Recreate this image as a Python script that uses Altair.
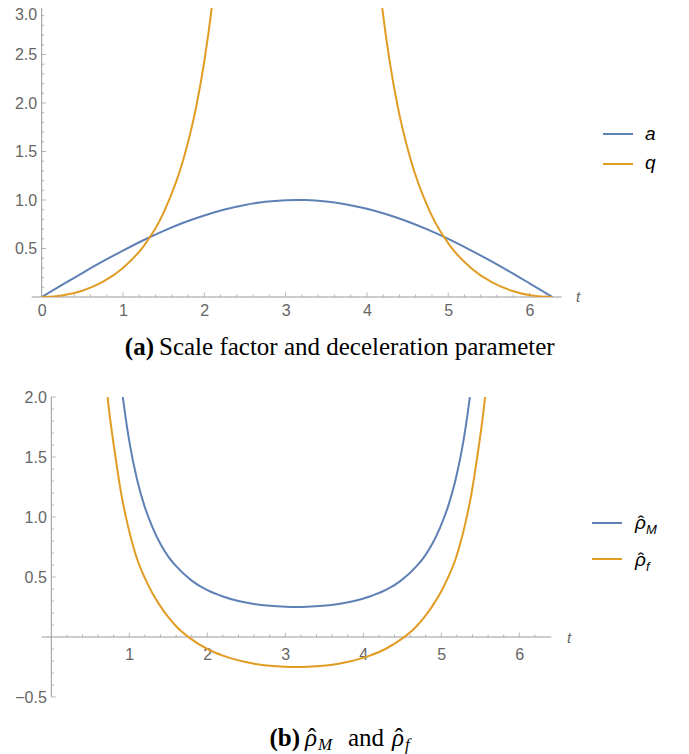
import altair as alt
import pandas as pd

BLUE = "#5E81B5"
ORANGE = "#E19C24"
AXC = "#9a9a9a"
LABC = "#666666"
SANS = "Liberation Sans"
SERIF = "Liberation Serif"

# ---------------- panel (a): scale factor a(t) and deceleration parameter q(t)
t_a = [0.0, 0.25, 0.5, 0.75, 1.0, 1.25, 1.5, 1.75, 2.0, 2.25, 2.5, 2.75, 3.0, 3.14,
       3.25, 3.5, 3.75, 4.0, 4.25, 4.5, 4.75, 5.0, 5.25, 5.5, 5.75, 6.0, 6.283]
a_vals = [0.0, 0.125, 0.247, 0.366, 0.479, 0.585, 0.682, 0.768, 0.841, 0.902, 0.949, 0.981,
          0.997, 1.0, 0.999, 0.984, 0.954, 0.909, 0.850, 0.778, 0.694, 0.599, 0.494, 0.382,
          0.264, 0.141, 0.0]

t_q_left = [0.0, 0.25, 0.5, 0.75, 1.0, 1.25, 1.5, 1.75, 1.9, 2.0, 2.1, 2.2]
q_left = [0.0, 0.016, 0.065, 0.155, 0.30, 0.52, 0.87, 1.44, 1.96, 2.43, 3.04, 3.86]
t_q_right = [4.08, 4.18, 4.28, 4.38, 4.53, 4.78, 5.03, 5.28, 5.53, 5.78, 6.03, 6.283]
q_right = [3.86, 3.04, 2.43, 1.96, 1.44, 0.87, 0.52, 0.30, 0.155, 0.065, 0.016, 0.0]

# ---------------- panel (b): densities rho_M and rho_f
t_rM = [0.85, 0.9, 0.95, 1.0, 1.1, 1.2, 1.3, 1.4, 1.5, 1.6, 1.8, 2.0, 2.2, 2.4, 2.6, 2.8,
        3.0, 3.14, 3.283, 3.483, 3.683, 3.883, 4.083, 4.283, 4.483, 4.683, 4.783, 4.883,
        4.983, 5.083, 5.183, 5.283, 5.333, 5.383, 5.433]
rM = [2.39, 2.09, 1.84, 1.63, 1.31, 1.08, 0.91, 0.775, 0.67, 0.59, 0.47, 0.39, 0.338, 0.30,
      0.275, 0.26, 0.252, 0.25, 0.252, 0.26, 0.275, 0.30, 0.338, 0.39, 0.47, 0.59, 0.67,
      0.775, 0.91, 1.08, 1.31, 1.63, 1.84, 2.09, 2.39]
t_rf = [0.65, 0.7, 0.75, 0.8, 0.85, 0.9, 0.95, 1.0, 1.1, 1.2, 1.3, 1.4, 1.5, 1.6, 1.8, 2.0,
        2.2, 2.4, 2.6, 2.8, 3.0, 3.14, 3.283, 3.483, 3.683, 3.883, 4.083, 4.283, 4.483,
        4.683, 4.783, 4.883, 4.983, 5.083, 5.183, 5.283, 5.333, 5.383, 5.433, 5.483, 5.533,
        5.583, 5.633]
rf = [2.45, 2.13, 1.84, 1.60, 1.38, 1.18, 1.02, 0.88, 0.65, 0.49, 0.36, 0.255, 0.165, 0.09,
      -0.02, -0.10, -0.155, -0.195, -0.222, -0.24, -0.248, -0.25, -0.248, -0.24, -0.222,
      -0.195, -0.155, -0.10, -0.02, 0.09, 0.165, 0.255, 0.36, 0.49, 0.65, 0.88, 1.02, 1.18,
      1.38, 1.60, 1.84, 2.13, 2.45]

# ---------------- tick labels / tick marks
xlab_a = [0, 1, 2, 3, 4, 5, 6]
ylab_a = [0.5, 1.0, 1.5, 2.0, 2.5, 3.0]
xlab_b = [1, 2, 3, 4, 5, 6]
ylab_b = [-0.5, 0.5, 1.0, 1.5, 2.0]
xmajor_a = [1, 2, 3, 4, 5, 6]
xminor_a = [round(i * 0.2, 1) for i in range(1, 32) if i % 5 != 0]
ymajor_a = [0.5, 1.0, 1.5, 2.0, 2.5, 3.0]
yminor_a = [round(i * 0.1, 1) for i in range(1, 30) if i % 5 != 0]
xmajor_b = [1, 2, 3, 4, 5, 6]
xminor_b = [round(i * 0.2, 1) for i in range(1, 32) if i % 5 != 0]
ymajor_b = [-0.5, 0.5, 1.0, 1.5, 2.0]
yminor_b = [round(i * 0.1, 1) for i in range(-4, 20) if i % 5 != 0]

W = 673
HA = 291
HB = 300
OFF_A = 33.7   # pixel distance of t=0 from plot left (panel a)
OFF_B = 43.3   # same for panel b
PX_A = 81.3
PX_B = 78.0

xA = alt.Scale(domain=[-OFF_A / PX_A, (W - OFF_A) / PX_A], nice=False, zero=False)
yA = alt.Scale(domain=[0, 3], nice=False, zero=False)
xB = alt.Scale(domain=[-OFF_B / PX_B, (W - OFF_B) / PX_B], nice=False, zero=False)
yB = alt.Scale(domain=[-0.5, 2.0], nice=False, zero=False)


def lab_axis(values, fmt, flush=False, **kw):
    return alt.Axis(values=values, format=fmt, domain=False, ticks=False, grid=False,
                    labelFont=SANS, labelFontSize=16, labelColor=LABC, labelOverlap=False,
                    labelFlush=flush, title=None, **kw)


axXA = lab_axis(xlab_a, "d", labelPadding=5)
axYA = lab_axis(ylab_a, ".1f", flush=True, labelFlushOffset=0, labelPadding=5, offset=-OFF_A)
axXB = lab_axis(xlab_b, "d", labelPadding=9, offset=-60)
axYB = lab_axis(ylab_b, ".1f", labelPadding=5, offset=-OFF_B)


def tick_layers(xs, ys, axx, axy, xmaj, xmin, ymaj, ymin):
    layers = []
    for vals, size in ((xmaj, 4.5), (xmin, 2.6)):
        d = pd.DataFrame({"t": vals, "v": 0.0})
        layers.append(alt.Chart(d).mark_tick(orient="vertical", size=size, thickness=1,
                                             yOffset=-size / 2, color=AXC).encode(
            x=alt.X("t:Q", scale=xs, axis=axx), y=alt.Y("v:Q", scale=ys, axis=axy)))
    for vals, size in ((ymaj, 4.5), (ymin, 2.6)):
        d = pd.DataFrame({"v": vals, "t": 0.0})
        layers.append(alt.Chart(d).mark_tick(orient="horizontal", size=size, thickness=1,
                                             xOffset=size / 2, color=AXC).encode(
            x=alt.X("t:Q", scale=xs, axis=axx), y=alt.Y("v:Q", scale=ys, axis=axy)))
    return layers


def axis_lines(xs, ys, axx, axy, x0, x1, y0, y1):
    d = pd.DataFrame({"t": [x0, 0.0], "t2": [x1, 0.0], "v": [0.0, y0], "v2": [0.0, y1]})
    return alt.Chart(d).mark_rule(color=AXC, strokeWidth=1).encode(
        x=alt.X("t:Q", scale=xs, axis=axx), x2="t2:Q",
        y=alt.Y("v:Q", scale=ys, axis=axy), y2="v2:Q")


one = pd.DataFrame({"k": [0]})


def leg_line(color, x0, x1, y):
    return alt.Chart(one).mark_rule(color=color, strokeWidth=2).encode(
        x=alt.value(x0), x2=alt.value(x1), y=alt.value(y))


def txt(text, x, y, size=18, style="normal", weight="normal", font=SANS, align="left",
        baseline="alphabetic", color="#000000"):
    return alt.Chart(one).mark_text(text=text, align=align, baseline=baseline, font=font,
                                    fontSize=size, fontStyle=style, fontWeight=weight,
                                    color=color).encode(x=alt.value(x), y=alt.value(y))


HAT = "\u02c6"
RHO = "\u03c1"


def rho_hat(x, y, size, font, sub, subsize, hat_dx, sub_dx, sub_dy):
    return [
        txt(RHO, x, y, size=size, style="italic", font=font),
        txt(HAT, x + hat_dx, y, size=size, font=font, align="center"),
        txt(sub, x + sub_dx, y + sub_dy, size=subsize, style="italic", font=font),
    ]


# ---------------- panel (a)
dfA = pd.concat([
    pd.DataFrame({"t": t_a, "v": a_vals, "series": "a", "seg": "a"}),
    pd.DataFrame({"t": t_q_left, "v": q_left, "series": "q", "seg": "q1"}),
    pd.DataFrame({"t": t_q_right, "v": q_right, "series": "q", "seg": "q2"}),
])

curvesA = alt.Chart(dfA).mark_line(strokeWidth=2, clip=True, interpolate="monotone").encode(
    x=alt.X("t:Q", scale=xA, axis=axXA),
    y=alt.Y("v:Q", scale=yA, axis=axYA),
    color=alt.Color("series:N", scale=alt.Scale(domain=["a", "q"], range=[BLUE, ORANGE]),
                    legend=None),
    detail="seg:N",
)

panelA = alt.layer(
    axis_lines(xA, yA, axXA, axYA, -0.123, 6.396, 0.0, 3.0),
    *tick_layers(xA, yA, axXA, axYA, xmajor_a, xminor_a, ymajor_a, yminor_a),
    curvesA,
    leg_line(BLUE, 595, 625, 128),
    leg_line(ORANGE, 595, 625, 158),
    txt("a", 637, 128, size=19, style="italic", baseline="middle"),
    txt("q", 637, 157, size=19, style="italic", baseline="middle"),
    txt("t", 568, HA, size=15, style="italic", color=LABC, baseline="middle"),
).properties(width=W, height=HA)

capA = alt.layer(
    txt("(a)", 146, 58, size=25, weight="bold", font=SERIF, align="right"),
    txt("Scale factor and deceleration parameter", 151, 58, size=25, font=SERIF),
).properties(width=W, height=100)

# ---------------- panel (b)
dfB = pd.concat([
    pd.DataFrame({"t": t_rM, "v": rM, "series": "M"}),
    pd.DataFrame({"t": t_rf, "v": rf, "series": "f"}),
])

curvesB = alt.Chart(dfB).mark_line(strokeWidth=2, clip=True, interpolate="monotone").encode(
    x=alt.X("t:Q", scale=xB, axis=axXB),
    y=alt.Y("v:Q", scale=yB, axis=axYB),
    color=alt.Color("series:N", scale=alt.Scale(domain=["M", "f"], range=[BLUE, ORANGE]),
                    legend=None),
)

panelB = alt.layer(
    axis_lines(xB, yB, axXB, axYB, -0.123, 6.41, -0.5, 2.0),
    *tick_layers(xB, yB, axXB, axYB, xmajor_b, xminor_b, ymajor_b, yminor_b),
    curvesB,
    leg_line(BLUE, 584, 614, 126),
    leg_line(ORANGE, 584, 614, 162),
    *rho_hat(627, 132, 19, SANS, "M", 13, 6, 11, 5),
    *rho_hat(627, 169, 19, SANS, "f", 13, 6, 11, 5),
    txt("t", 559, 241, size=15, style="italic", color=LABC, baseline="middle"),
).properties(width=W, height=HB)

capB = alt.layer(
    txt("(b)", 292, 49, size=25, weight="bold", font=SERIF, align="right"),
    *rho_hat(297, 49, 25, SERIF, "M", 17, 7, 13, 4),
    txt("and", 340, 49, size=25, font=SERIF),
    *rho_hat(384, 49, 25, SERIF, "f", 17, 7, 13, 4),
).properties(width=W, height=58)

chart = alt.vconcat(panelA, capA, panelB, capB, spacing=0, bounds="flush").properties(
    padding={"left": 0, "top": -3, "right": 0, "bottom": 0}
).configure_view(strokeWidth=0)

chart.save("out.html", embed_options={"renderer": "svg", "actions": False})
